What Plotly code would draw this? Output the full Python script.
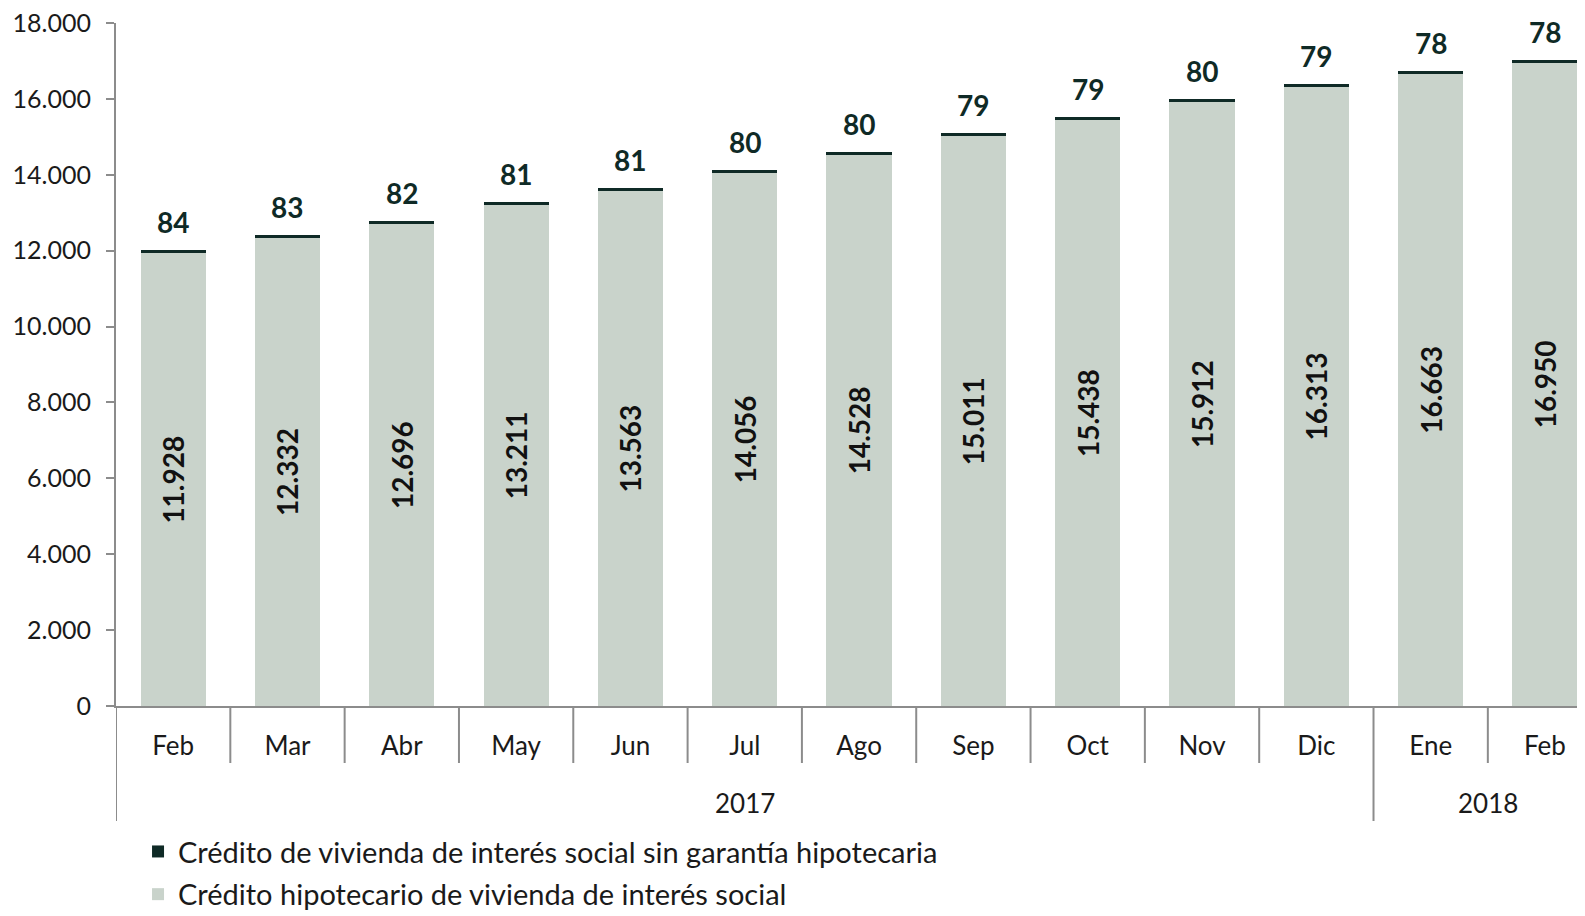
import plotly.graph_objects as go

months = ["Feb", "Mar", "Abr", "May", "Jun", "Jul", "Ago", "Sep", "Oct", "Nov", "Dic", "Ene", "Feb"]
years = ["2017"] * 11 + ["2018"] * 2
hipotecario = [11928, 12332, 12696, 13211, 13563, 14056, 14528, 15011, 15438, 15912, 16313, 16663, 16950]
sin_garantia = [84, 83, 82, 81, 81, 80, 80, 79, 79, 80, 79, 78, 78]

name_hip = "Crédito hipotecario de vivienda de interés social"
name_sin = "Crédito de vivienda de interés social sin garantía hipotecaria"

FONT = "Lato"
light = "#c9d3cb"
dark = "#0f2a26"
axis_gray = "#8c8c8c"
txt = "#1a1a1a"

cats = [f"{m} {y}" for m, y in zip(months, years)]
idx = list(range(len(cats)))

fig = go.Figure()
fig.add_trace(go.Bar(
    x=cats, y=hipotecario, name=name_hip, legendgroup="hip", legendrank=2,
    marker=dict(color=light, line=dict(width=0)),
    texttemplate="%{y:,.0f}", textposition="inside", insidetextanchor="middle",
    textangle=-90, textfont=dict(family=FONT, size=28, color="#111111", weight="bold"),
))
fig.add_trace(go.Bar(
    x=cats, y=sin_garantia, name=name_sin, legendgroup="sin", legendrank=1,
    marker=dict(color=dark, line=dict(width=0)),
))

# total labels for the small series
for c, h, s in zip(cats, hipotecario, sin_garantia):
    fig.add_annotation(
        x=c, y=h + s, xref="x", yref="y", text=str(s), showarrow=False,
        yanchor="bottom", yshift=9,
        font=dict(family=FONT, size=28, color=dark, weight="bold"),
    )

plot_h = 683.0
month_div = -57 / plot_h
year_div = -115 / plot_h

for i in idx[1:]:
    is_year_boundary = years[i] != years[i - 1]
    fig.add_shape(
        type="line", xref="x", yref="paper",
        x0=i - 0.5, x1=i - 0.5, y0=0, y1=year_div if is_year_boundary else month_div,
        line=dict(color=axis_gray, width=2),
    )
fig.add_shape(
    type="line", xref="x", yref="paper", x0=-0.5, x1=-0.5, y0=0, y1=year_div,
    line=dict(color=axis_gray, width=2),
)

for yr in dict.fromkeys(years):
    pos = [i for i in idx if years[i] == yr]
    fig.add_annotation(
        x=sum(pos) / len(pos), y=-97 / plot_h, xref="x", yref="paper",
        text=yr, showarrow=False, yanchor="middle",
        font=dict(family=FONT, size=26, color=txt),
    )

fig.update_layout(
    width=1577, height=908,
    barmode="stack", bargap=0.43,
    separators=",.",
    plot_bgcolor="white", paper_bgcolor="white",
    margin=dict(l=108, r=0, t=15, b=210, autoexpand=False),
    font=dict(family=FONT, size=24, color=txt),
    showlegend=True,
    legend=dict(
        orientation="v", x=0.015, xanchor="left", yref="container", y=0.099, yanchor="top",
        font=dict(family=FONT, size=29, color=txt),
        traceorder="grouped", tracegroupgap=2, itemwidth=30,
    ),
)
fig.update_yaxes(
    range=[0, 18000], tickvals=list(range(0, 18001, 2000)), tickformat=",.0f",
    showgrid=False, showline=True, linecolor=axis_gray, linewidth=2,
    ticks="outside", ticklen=8, tickcolor=axis_gray, tickwidth=2, ticklabelstandoff=10,
    ticklabeloverflow="allow",
    tickfont=dict(family=FONT, size=25, color=txt), zeroline=False, automargin=False,
)
fig.update_xaxes(
    type="category", range=[-0.5, 12.35],
    tickmode="array", tickvals=cats, ticktext=months,
    showgrid=False, showline=True, linecolor=axis_gray, linewidth=2,
    ticks="", ticklabelstandoff=16,
    tickfont=dict(family=FONT, size=26, color=txt), automargin=False,
)

fig.write_html("out.html")
